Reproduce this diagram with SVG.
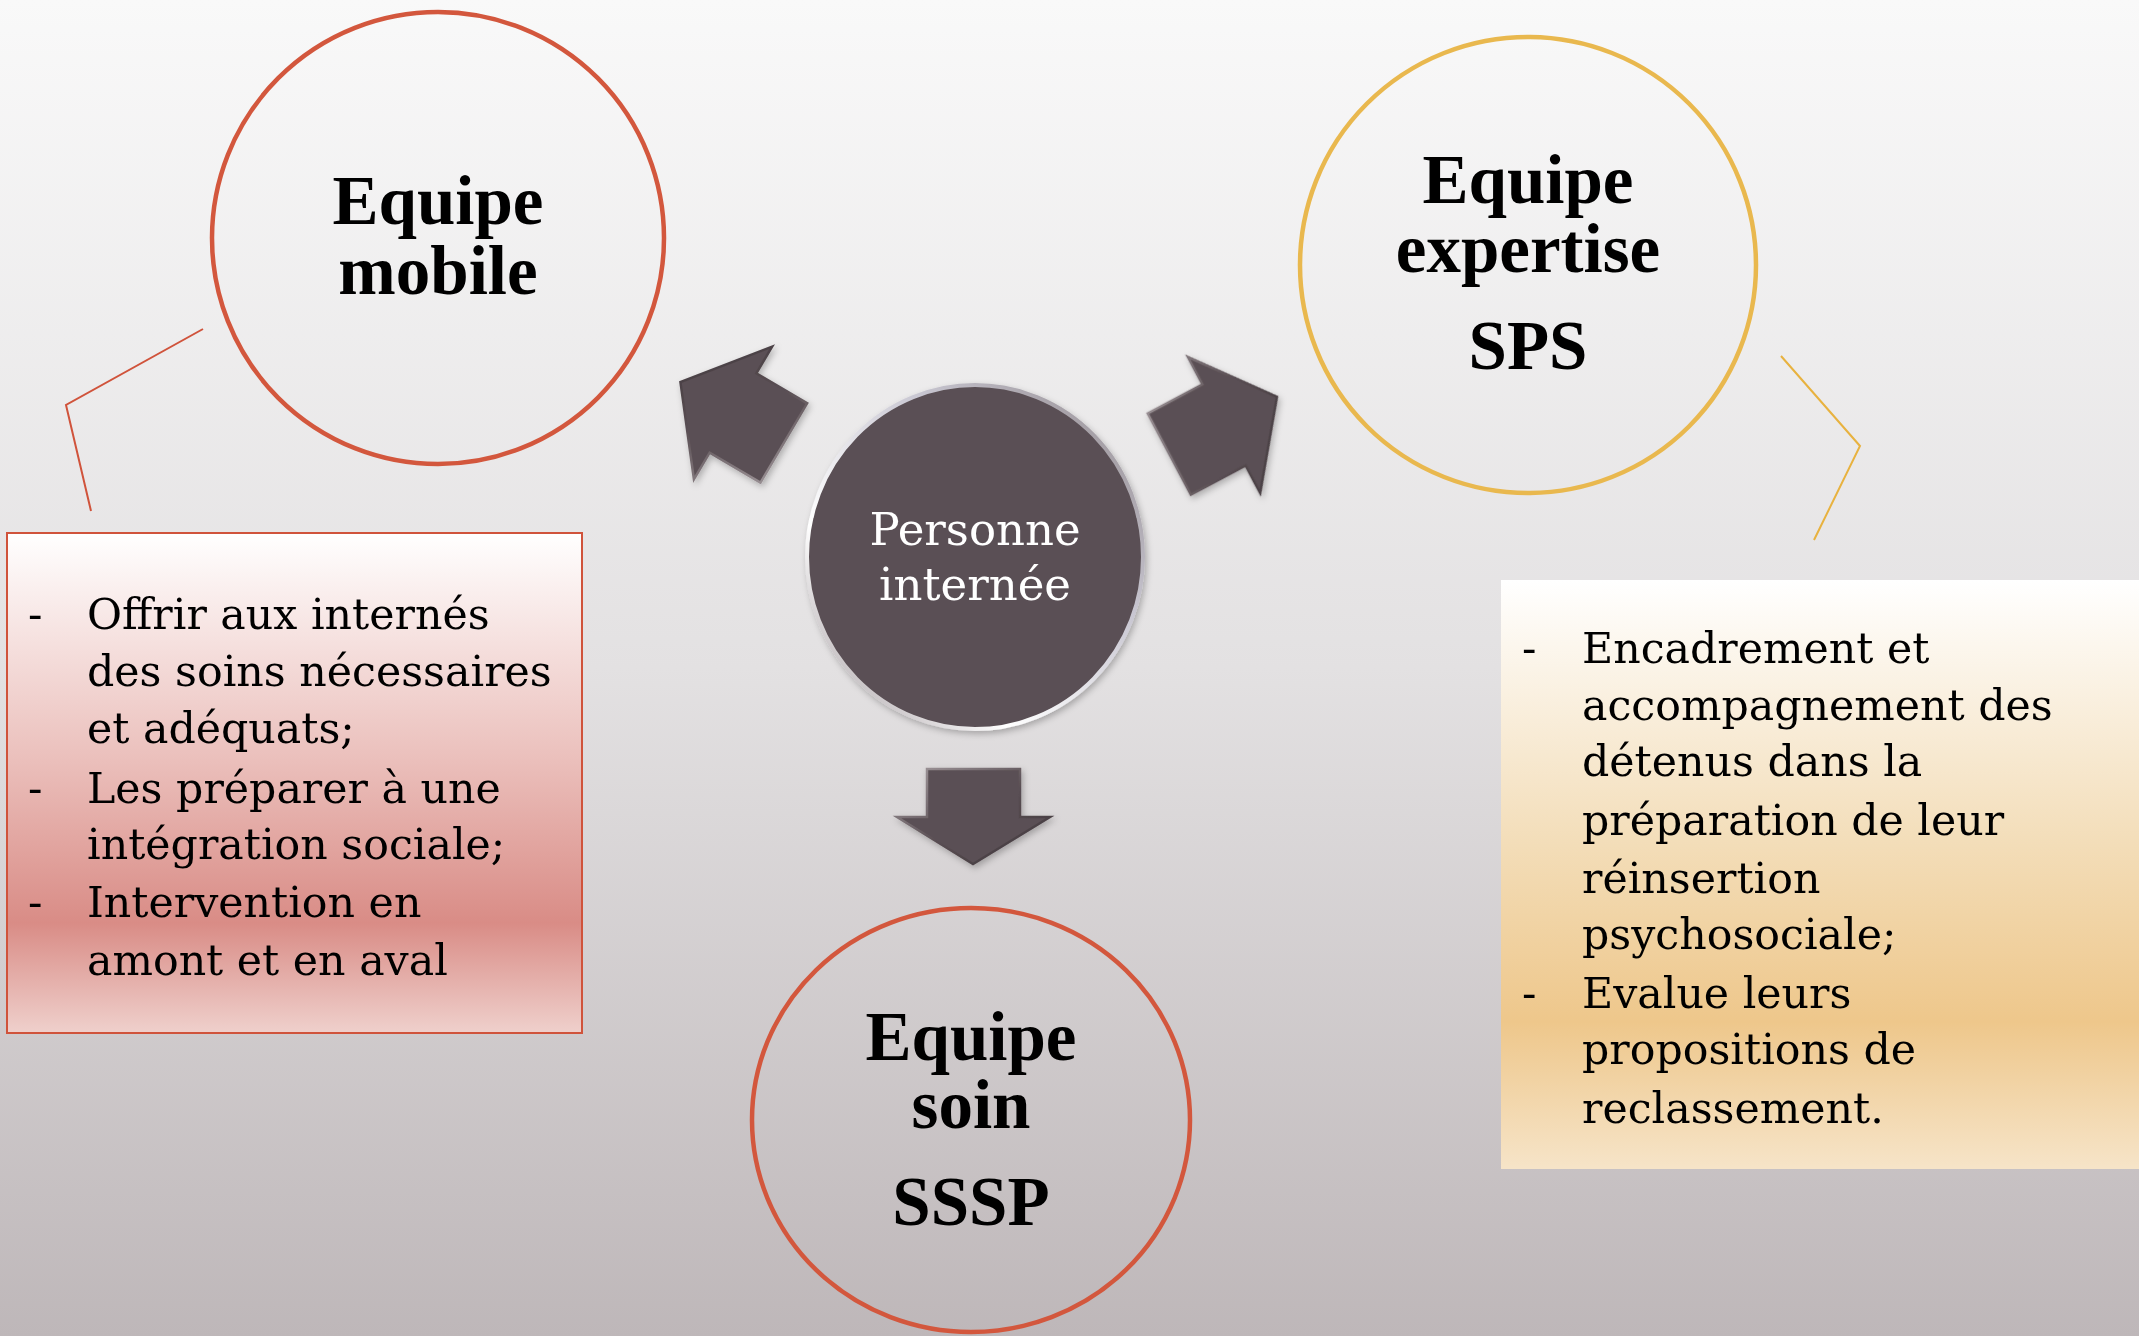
<svg xmlns="http://www.w3.org/2000/svg" width="2139" height="1336" viewBox="0 0 2139 1336">
<defs>
<linearGradient id="bg" x1="0" y1="0" x2="0" y2="1">
<stop offset="0" stop-color="#F9F9F9"/>
<stop offset="0.5" stop-color="#E3E1E2"/>
<stop offset="1" stop-color="#BEB7B9"/>
</linearGradient>
<linearGradient id="redbox" x1="0" y1="0" x2="0" y2="1">
<stop offset="0" stop-color="#FFFFFF"/>
<stop offset="0.45" stop-color="#EBC0BC"/>
<stop offset="0.78" stop-color="#D98C86"/>
<stop offset="1" stop-color="#EFD0CC"/>
</linearGradient>
<linearGradient id="goldbox" x1="0" y1="0" x2="0" y2="1">
<stop offset="0" stop-color="#FFFFFF"/>
<stop offset="0.45" stop-color="#F3DDB8"/>
<stop offset="0.75" stop-color="#EEC78B"/>
<stop offset="1" stop-color="#F6E4C8"/>
</linearGradient>
<linearGradient id="bevel" x1="0" y1="0" x2="1" y2="1">
<stop offset="0" stop-color="#A59CA0"/>
<stop offset="0.5" stop-color="#5A4F54"/>
<stop offset="1" stop-color="#3E3539"/>
</linearGradient>
<linearGradient id="rim" x1="1" y1="0" x2="0" y2="1">
<stop offset="0" stop-color="#8E868A"/>
<stop offset="0.35" stop-color="#C9C7D2"/>
<stop offset="0.7" stop-color="#FFFFFF"/>
<stop offset="1" stop-color="#9A9196"/>
</linearGradient>
<filter id="sh" x="-20%" y="-20%" width="140%" height="140%">
<feDropShadow dx="2" dy="3" stdDeviation="3" flood-color="#000" flood-opacity="0.25"/>
</filter>
</defs>
<style>
.title{font-family:"Liberation Serif","Times New Roman",serif;font-weight:bold;font-size:69px;fill:#000;text-anchor:middle}
.body{font-family:"DejaVu Serif",serif;font-size:42.7px;fill:#000}
.center{font-family:"DejaVu Serif",serif;font-size:45px;fill:#FFFFFF;text-anchor:middle}
.ring{fill:none;stroke-width:4.5}
.arrow{fill:#5A4F54;stroke:url(#bevel);stroke-width:2.5;stroke-linejoin:miter}
.call{fill:none;stroke-width:2}
</style>
<rect x="0" y="0" width="2139" height="1336" fill="url(#bg)"/>

<g id="connectors">
<polyline class="call" stroke="#D0533B" points="203,329 66,405 91,511"/>
<polyline class="call" stroke="#E8B23F" points="1781,356 1860,446 1814,540"/>
<g filter="url(#sh)">
<polygon class="arrow" transform="translate(733,413) rotate(210.5)" points="-59,-46 0,-46 0,-77 61,0 0,77 0,46 -59,46"/>
<polygon class="arrow" transform="translate(1224,425) rotate(-28)" points="-62,-46 0,-46 0,-77 60,0 0,77 0,46 -62,46"/>
<polygon class="arrow" points="927,769 1020,769 1020,817 1050,817 973,864 897,817 927,817"/>
</g>
</g>

<g id="node-mobile">
<ellipse class="ring" cx="438" cy="238" rx="226" ry="226" stroke="#D3573D"/>
<text class="title" x="438" y="224">Equipe</text>
<text class="title" x="438" y="294">mobile</text>
</g>

<g id="node-expertise">
<ellipse class="ring" cx="1528" cy="265" rx="228" ry="228" stroke="#E9B84E"/>
<text class="title" x="1528" y="203">Equipe</text>
<text class="title" x="1528" y="272">expertise</text>
<text class="title" x="1528" y="369">SPS</text>
</g>

<g id="node-soin">
<ellipse class="ring" cx="971" cy="1120" rx="219" ry="212" stroke="#D3573D"/>
<text class="title" x="971" y="1060">Equipe</text>
<text class="title" x="971" y="1128">soin</text>
<text class="title" x="971" y="1225">SSSP</text>
</g>

<g id="node-personne">
<ellipse cx="975" cy="557" rx="168" ry="172" fill="#5A4F54" stroke="url(#rim)" stroke-width="4" filter="url(#sh)"/>
<text class="center" x="975" y="545">Personne</text>
<text class="center" x="975" y="600">internée</text>
</g>

<g id="box-mobile">
<rect x="7" y="533" width="575" height="500" fill="url(#redbox)" stroke="#D0533B" stroke-width="2"/>
<text class="body" x="28" y="629">-</text>
<text class="body" x="87" y="629">Offrir aux internés</text>
<text class="body" x="87" y="686">des soins nécessaires</text>
<text class="body" x="87" y="743">et adéquats;</text>
<text class="body" x="28" y="803">-</text>
<text class="body" x="87" y="803">Les préparer à une</text>
<text class="body" x="87" y="859">intégration sociale;</text>
<text class="body" x="28" y="917">-</text>
<text class="body" x="87" y="917">Intervention en</text>
<text class="body" x="87" y="975">amont et en aval</text>
</g>

<g id="box-expertise">
<rect x="1501" y="580" width="638" height="589" fill="url(#goldbox)"/>
<text class="body" x="1522" y="663">-</text>
<text class="body" x="1582" y="663">Encadrement et</text>
<text class="body" x="1582" y="720">accompagnement des</text>
<text class="body" x="1582" y="776">détenus dans la</text>
<text class="body" x="1582" y="835">préparation de leur</text>
<text class="body" x="1582" y="893">réinsertion</text>
<text class="body" x="1582" y="949">psychosociale;</text>
<text class="body" x="1522" y="1008">-</text>
<text class="body" x="1582" y="1008">Evalue leurs</text>
<text class="body" x="1582" y="1064">propositions de</text>
<text class="body" x="1582" y="1123">reclassement.</text>
</g>
</svg>
